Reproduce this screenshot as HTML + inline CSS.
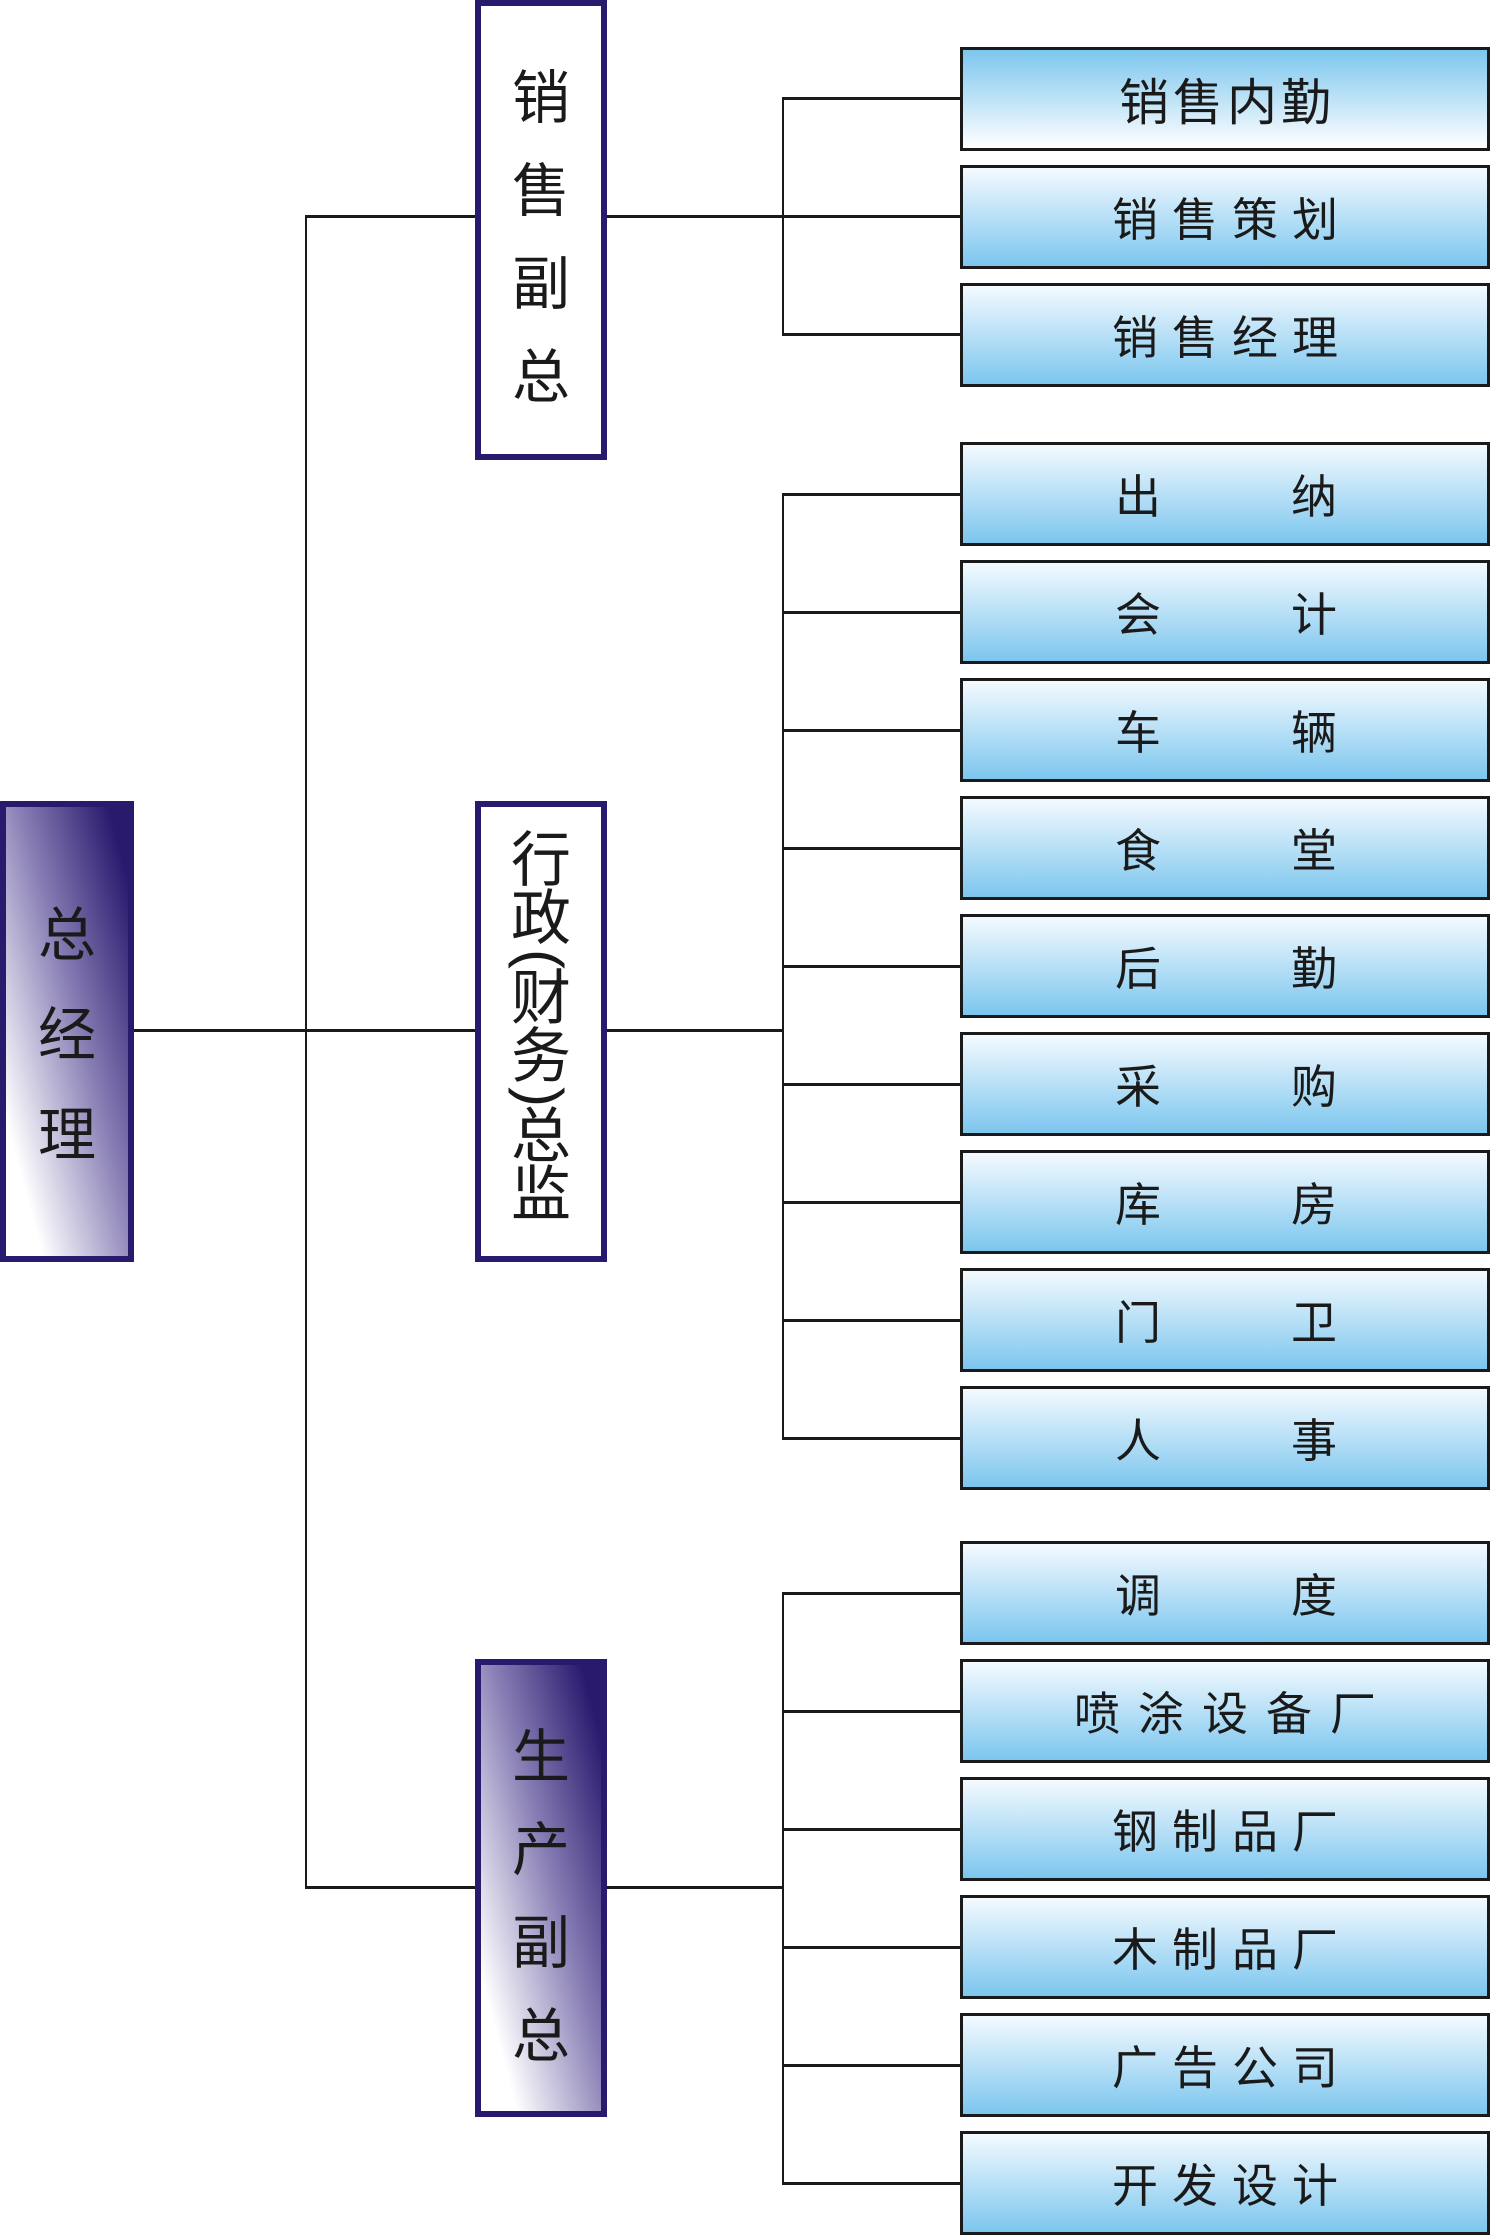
<!DOCTYPE html>
<html><head><meta charset="utf-8"><style>
body{margin:0;width:1490px;height:2237px;position:relative;background:#fff;overflow:hidden;font-family:"Liberation Sans","Noto Sans CJK SC",sans-serif;color:#1a1a1a}
.l{position:absolute;background:#1a1a1a}
.b{position:absolute;left:960px;width:530px;height:104px;box-sizing:border-box;border:3px solid #1a1a1a;background:linear-gradient(#f4faff,#7cc6ee);display:flex;align-items:center;justify-content:center;font-size:46px;letter-spacing:14px;padding-left:14px}
.b2{justify-content:space-between;padding:0 150px 0 152px;letter-spacing:0}
.v{position:absolute;left:475px;width:132px;box-sizing:border-box;border:6px solid #2a1a6e;background:#fff;display:flex;flex-direction:column;align-items:center;font-size:58px}
.v span{display:block}
.p{transform:rotate(90deg);height:22px;line-height:22px}
.g{background:linear-gradient(to bottom left,#2a1a6e 8%,#8a80b6 45%,#fff 85%)}
</style></head><body>
<div class="l" style="left:134px;top:1029px;width:341px;height:3px"></div>
<div class="l" style="left:305px;top:216px;width:2px;height:1673px"></div>
<div class="l" style="left:305px;top:215px;width:170px;height:3px"></div>
<div class="l" style="left:305px;top:1886px;width:170px;height:3px"></div>
<div class="l" style="left:607px;top:215px;width:353px;height:3px"></div>
<div class="l" style="left:607px;top:1029px;width:176px;height:3px"></div>
<div class="l" style="left:607px;top:1886px;width:176px;height:3px"></div>
<div class="l" style="left:782px;top:98px;width:2px;height:238px"></div>
<div class="l" style="left:782px;top:493px;width:2px;height:946px"></div>
<div class="l" style="left:782px;top:1592px;width:2px;height:592px"></div>
<div class="l" style="left:782px;top:97px;width:178px;height:3px"></div>
<div class="l" style="left:782px;top:333px;width:178px;height:3px"></div>
<div class="l" style="left:782px;top:493px;width:178px;height:3px"></div>
<div class="l" style="left:782px;top:611px;width:178px;height:3px"></div>
<div class="l" style="left:782px;top:729px;width:178px;height:3px"></div>
<div class="l" style="left:782px;top:847px;width:178px;height:3px"></div>
<div class="l" style="left:782px;top:965px;width:178px;height:3px"></div>
<div class="l" style="left:782px;top:1083px;width:178px;height:3px"></div>
<div class="l" style="left:782px;top:1201px;width:178px;height:3px"></div>
<div class="l" style="left:782px;top:1319px;width:178px;height:3px"></div>
<div class="l" style="left:782px;top:1437px;width:178px;height:3px"></div>
<div class="l" style="left:782px;top:1592px;width:178px;height:3px"></div>
<div class="l" style="left:782px;top:1710px;width:178px;height:3px"></div>
<div class="l" style="left:782px;top:1828px;width:178px;height:3px"></div>
<div class="l" style="left:782px;top:1946px;width:178px;height:3px"></div>
<div class="l" style="left:782px;top:2064px;width:178px;height:3px"></div>
<div class="l" style="left:782px;top:2182px;width:178px;height:3px"></div>

<div class="v g" style="left:0;width:134px;top:801px;height:461px;padding-top:79px;line-height:100px">总<br>经<br>理</div>
<div class="v" style="top:0;height:460px;padding-top:46px;line-height:93px">销<br>售<br>副<br>总</div>
<div class="v" style="top:801px;height:461px;padding-top:25px;font-size:60px;line-height:58px"><span>行</span><span>政</span><span class="p">(</span><span>财</span><span>务</span><span class="p">)</span><span>总</span><span>监</span></div>
<div class="v g" style="top:1659px;height:458px;padding-top:46px;line-height:93px">生<br>产<br>副<br>总</div>

<div class="b" style="top:47px;background:linear-gradient(#7cc6ee,#fff);font-size:50px;letter-spacing:4px;padding-left:4px">销售内勤</div>
<div class="b" style="top:165px">销售策划</div>
<div class="b" style="top:283px">销售经理</div>

<div class="b b2" style="top:442px"><span>出</span><span>纳</span></div>
<div class="b b2" style="top:560px"><span>会</span><span>计</span></div>
<div class="b b2" style="top:678px"><span>车</span><span>辆</span></div>
<div class="b b2" style="top:796px"><span>食</span><span>堂</span></div>
<div class="b b2" style="top:914px"><span>后</span><span>勤</span></div>
<div class="b b2" style="top:1032px"><span>采</span><span>购</span></div>
<div class="b b2" style="top:1150px"><span>库</span><span>房</span></div>
<div class="b b2" style="top:1268px"><span>门</span><span>卫</span></div>
<div class="b b2" style="top:1386px"><span>人</span><span>事</span></div>

<div class="b b2" style="top:1541px"><span>调</span><span>度</span></div>
<div class="b" style="top:1659px;letter-spacing:18px;padding-left:18px">喷涂设备厂</div>
<div class="b" style="top:1777px">钢制品厂</div>
<div class="b" style="top:1895px">木制品厂</div>
<div class="b" style="top:2013px">广告公司</div>
<div class="b" style="top:2131px">开发设计</div>
</body></html>
